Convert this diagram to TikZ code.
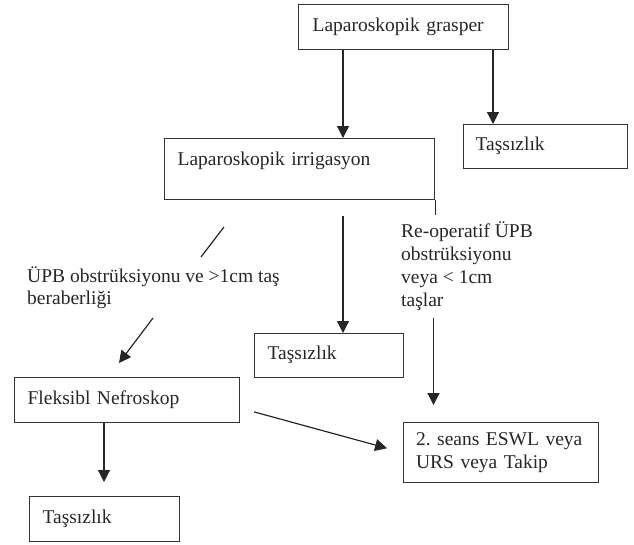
\documentclass[tikz,border=0pt]{standalone}
\usepackage{fontspec}
\setmainfont{Liberation Serif}
\usetikzlibrary{arrows.meta}
\begin{document}
\begin{tikzpicture}[x=1pt,y=-1pt,
    every node/.style={font=\fontsize{19.5}{22.5}\selectfont, text=black!85},
    box/.style={draw=black!80, line width=1.2pt, anchor=north west, align=left, inner ysep=0pt},
    single/.style={text height=1em, text depth=0.22em},
    lbl/.style={align=left, inner sep=0pt, anchor=west},
    line/.style={draw=black!85, line width=1.2pt},
    arr/.style={line, -{Triangle[width=12pt,length=12pt]}}]
    \useasboundingbox (0,0) rectangle (634,544);
    \node[box, single, minimum height=45pt, text width=182pt, inner xsep=14pt] (grasper) at (298,4) {Laparoskopik grasper};
    \node[box, single, minimum height=44pt, text width=140pt, inner xsep=12pt] (tas1) at (463,124) {Taşsızlık};
    \node[box, minimum height=61pt, text width=244pt, inner xsep=13pt, text height=1em, text depth=1.72em] (irrig) at (164,138) {Laparoskopik irrigasyon};
    \node[box, single, minimum height=44pt, text width=123pt, inner xsep=13pt] (tas2) at (254,333) {Taşsızlık};
    \node[box, single, minimum height=45pt, text width=199pt, inner xsep=13pt] (fleks) at (14,377) {Fleksibl Nefroskop};
    \node[box, single, minimum height=45pt, text width=124pt, inner xsep=13pt] (tas3) at (29,496) {Taşsızlık};
    \node[box, minimum height=60pt, text width=180pt, inner xsep=7.5pt] (eswl) at (403,422) {\hspace*{5pt}2.\ seans ESWL veya\\\hspace*{5pt}URS veya Takip};
    \node[lbl, font=\fontsize{19.5}{21.5}\selectfont] (upb) at (27,287.5) {ÜPB obstrüksiyonu ve >1cm taş\\beraberliği};
    \node[lbl, font=\fontsize{19.5}{23}\selectfont] (reop) at (401,266.5) {Re-operatif ÜPB\\obstrüksiyonu\\veya < 1cm\\taşlar};
    \coordinate (s1) at (224,227);
    \coordinate (s2) at (201,257);
    \coordinate (d1) at (153,318);
    \coordinate (d2) at (119,363);
    \coordinate (r1) at (433.5,318);
    \draw[arr] ([xshift=45pt]grasper.south west) -- ([xshift=45pt]grasper.south west |- irrig.north);
    \draw[arr] ([xshift=30pt]tas1.north west |- grasper.south) -- ([xshift=30pt]tas1.north west);
    \draw[line] (irrig.south east) -- ++(0,15);
    \draw[arr] ([xshift=179pt,yshift=-16pt]irrig.south west) -- ([xshift=179pt]irrig.south west |- tas2.north);
    \draw[line] (s1) -- (s2);
    \draw[arr] (d1) -- (d2);
    \draw[arr, shorten >=17pt] (r1) -- (r1 |- eswl.north);
    \draw[arr, shorten >=14pt] ([xshift=90pt]fleks.south west) -- ([xshift=90pt]fleks.south west |- tas3.north);
    \draw[arr, shorten <=14.5pt, shorten >=16.5pt] ([yshift=-8pt]fleks.east) -- (eswl.west);
\end{tikzpicture}
\end{document}
